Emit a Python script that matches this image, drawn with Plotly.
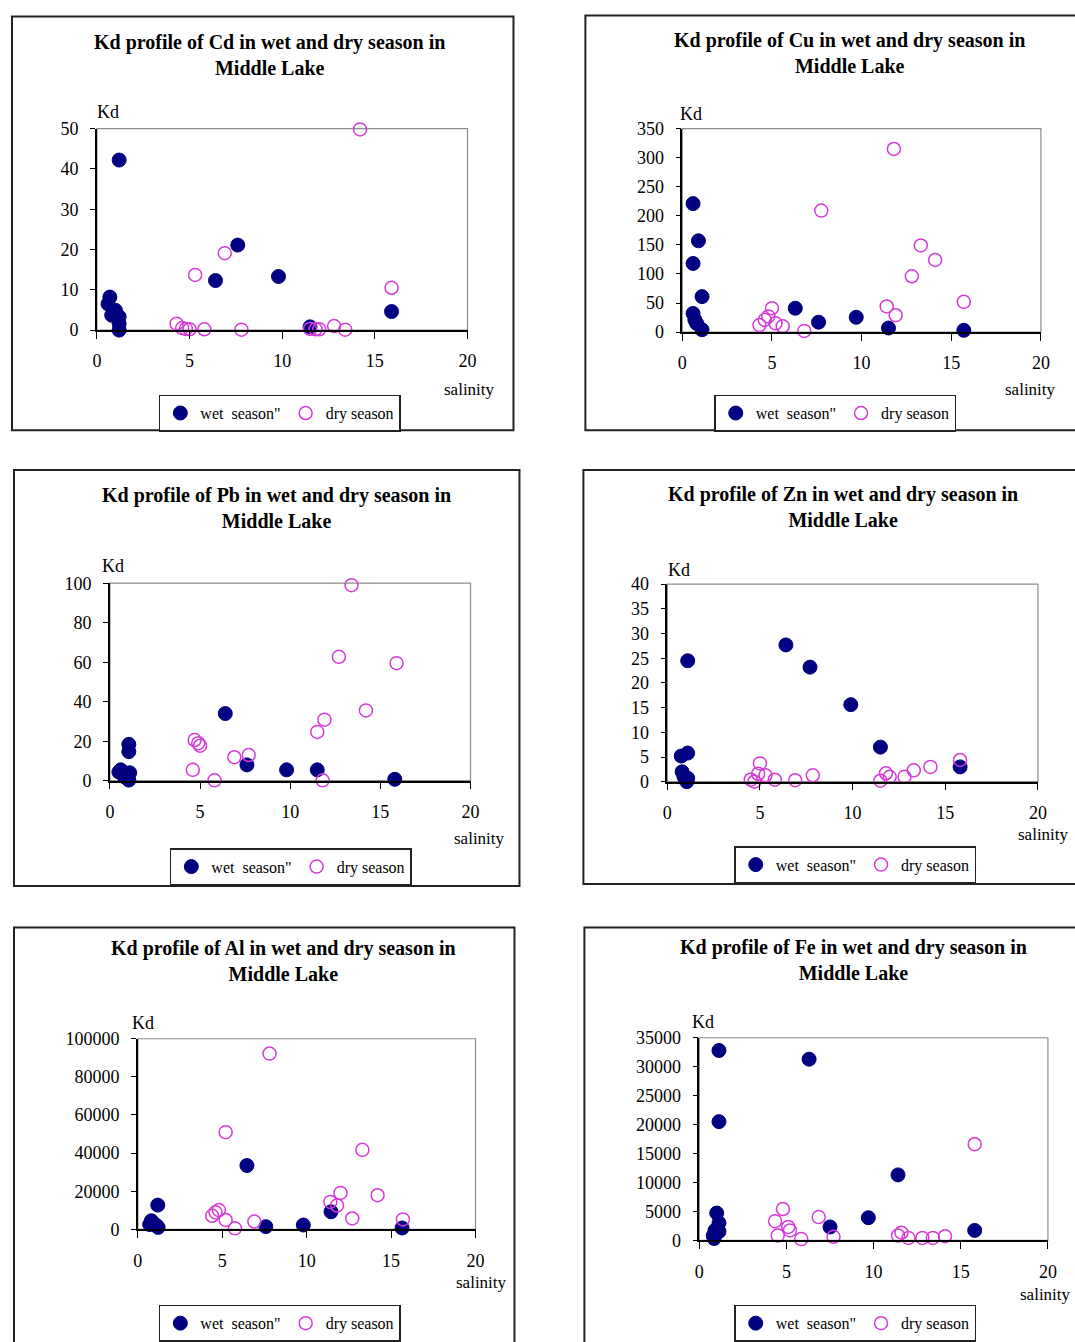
import plotly.graph_objects as go

W, H = 1075, 1342

# Kd values against salinity, wet and dry season, Middle Lake
cd_wet_sal = [0.7, 0.6, 0.8, 1.0, 1.2, 1.2, 1.2, 1.2, 6.4, 7.6, 9.8, 11.5, 15.9]
cd_wet_kd = [8.2, 6.5, 3.7, 4.9, 42.2, 3.3, 1.6, 0.0, 12.3, 21.1, 13.3, 0.8, 4.6]
cd_dry_sal = [4.3, 4.6, 4.8, 5.0, 5.3, 5.8, 6.9, 7.8, 11.5, 11.8, 12.0, 12.8, 13.4, 14.2, 15.9]
cd_dry_kd = [1.6, 0.5, 0.3, 0.2, 13.7, 0.2, 19.1, 0.1, 0.3, 0.2, 0.2, 1.0, 0.1, 49.8, 10.5]

cu_wet_sal = [0.6, 0.9, 0.6, 1.1, 0.6, 0.7, 0.8, 1.1, 6.3, 7.6, 9.7, 11.5, 15.7]
cu_wet_kd = [221, 157, 118, 61, 32, 21, 15, 4, 41, 17, 25.5, 7, 3]
cu_dry_sal = [4.3, 4.6, 4.8, 5.0, 5.2, 5.6, 6.8, 7.75, 11.4, 11.8, 11.9, 12.8, 13.3, 14.1, 15.7]
cu_dry_kd = [12, 21, 27, 41, 15, 10, 2, 209, 44, 315, 29, 96, 149, 124, 52]

pb_wet_sal = [6.4, 1.05, 1.05, 0.6, 0.5, 1.1, 0.8, 1.05, 7.6, 9.8, 11.5, 15.8]
pb_wet_kd = [34, 18.4, 14.7, 5.5, 4.4, 4.0, 2.0, 0.3, 8.0, 5.5, 5.5, 0.7]
pb_dry_sal = [13.4, 12.7, 15.9, 14.2, 11.9, 11.5, 4.7, 4.9, 5.0, 6.9, 7.7, 4.6, 5.8, 11.8]
pb_dry_kd = [99, 62.7, 59.5, 35.6, 30.9, 24.7, 20.6, 19.0, 17.7, 11.9, 13.0, 5.5, 0.2, 0.2]

zn_wet_sal = [1.1, 6.4, 7.7, 9.9, 11.5, 15.8, 0.75, 1.1, 0.8, 0.9, 1.1, 1.05]
zn_wet_kd = [24.5, 27.7, 23.2, 15.6, 7.0, 3.0, 5.2, 5.8, 2.0, 1.0, 0.7, 0.0]
zn_dry_sal = [15.8, 5.0, 14.2, 13.3, 12.8, 11.8, 12.0, 11.5, 7.85, 6.9, 5.8, 5.3, 4.9, 4.5, 4.7]
zn_dry_kd = [4.4, 3.7, 3.0, 2.3, 1.0, 1.7, 1.0, 0.2, 1.3, 0.3, 0.4, 1.3, 1.6, 0.4, 0.0]

al_wet_sal = [6.46, 1.18, 0.8, 0.95, 1.1, 0.7, 1.2, 7.58, 9.8, 11.44, 15.65]
al_wet_kd = [33500, 12700, 4500, 3000, 2000, 2500, 1000, 1400, 2250, 9200, 700]
al_dry_sal = [7.8, 5.2, 13.3, 14.2, 12.0, 11.4, 11.8, 4.8, 4.4, 4.6, 5.2, 5.75, 6.9, 12.7, 15.7]
al_dry_kd = [92200, 51000, 41700, 17900, 19100, 14400, 12500, 10100, 7100, 8900, 4900, 500, 4100, 5700, 5200]

fe_wet_sal = [1.13, 6.3, 1.13, 11.4, 9.7, 7.5, 15.8, 1.0, 1.13, 0.9, 0.8, 0.85, 1.13]
fe_wet_kd = [32800, 31300, 20500, 11300, 3900, 2300, 1700, 4700, 3000, 1700, 800, 300, 1500]
fe_dry_sal = [15.8, 4.8, 6.85, 4.35, 5.1, 5.2, 4.5, 5.85, 7.7, 11.4, 11.6, 12.0, 12.8, 13.4, 14.1]
fe_dry_kd = [16600, 5400, 4000, 3300, 2300, 1700, 800, 200, 600, 800, 1300, 400, 400, 400, 700]

salinity_ticks = [0, 5, 10, 15, 20]
metals = ["Cd", "Cu", "Pb", "Zn", "Al", "Fe"]
kd_ticks = {
    "Cd": list(range(0, 51, 10)),
    "Cu": list(range(0, 351, 50)),
    "Pb": list(range(0, 101, 20)),
    "Zn": list(range(0, 41, 5)),
    "Al": list(range(0, 100001, 20000)),
    "Fe": list(range(0, 35001, 5000)),
}
series = {
    "Cd": (cd_wet_sal, cd_wet_kd, cd_dry_sal, cd_dry_kd),
    "Cu": (cu_wet_sal, cu_wet_kd, cu_dry_sal, cu_dry_kd),
    "Pb": (pb_wet_sal, pb_wet_kd, pb_dry_sal, pb_dry_kd),
    "Zn": (zn_wet_sal, zn_wet_kd, zn_dry_sal, zn_dry_kd),
    "Al": (al_wet_sal, al_wet_kd, al_dry_sal, al_dry_kd),
    "Fe": (fe_wet_sal, fe_wet_kd, fe_dry_sal, fe_dry_kd),
}

# Pixel geometry of each panel: frame box, plot area, title centre, labels, legend
layout_px = {
    "Cd": dict(box=(10, 14, 512, 431), plot=(95, 127, 466, 330), title=(268, 40),
               kd=(106, 110), sal=(468, 390), leg=(157, 395)),
    "Cu": dict(box=(584, 13, 1085, 431), plot=(681, 127, 1040, 332), title=(848, 38),
               kd=(690, 112), sal=(1030, 390), leg=(713, 395)),
    "Pb": dict(box=(12, 471, 518, 890), plot=(108, 585, 469, 784), title=(275, 496),
               kd=(111, 568), sal=(478, 842), leg=(168, 852)),
    "Zn": dict(box=(582, 471, 1085, 888), plot=(666, 586, 1037, 785), title=(842, 495),
               kd=(678, 572), sal=(1043, 838), leg=(733, 850)),
    "Al": dict(box=(12, 932, 513, 1370), plot=(136, 1044, 474, 1236), title=(282, 952),
               kd=(141, 1028), sal=(480, 1290), leg=(157, 1312)),
    "Fe": dict(box=(583, 932, 1085, 1370), plot=(698, 1043, 1047, 1247), title=(852, 951),
               kd=(702, 1027), sal=(1045, 1302), leg=(733, 1312)),
}

FONT = "Liberation Serif"
WET_COLOR = "#000080"
DRY_COLOR = "#D63AD6"

# page-to-figure pixel mapping
SCALE, OFF_X, OFF_Y = 0.988, 3.0, 7.5


def fx(x):
    return ((x - OFF_X) / SCALE) / W


def fy(y):
    return 1 - ((y - OFF_Y) / SCALE) / H


fig = go.Figure()
shapes, annotations = [], []
lay = {}

for i, m in enumerate(metals, start=1):
    g = layout_px[m]
    sfx = "" if i == 1 else str(i)
    xa, ya = "x" + sfx, "y" + sfx
    leg = "legend" + sfx
    wet_x, wet_y, dry_x, dry_y = series[m]

    fig.add_trace(go.Scatter(
        x=wet_x, y=wet_y, mode="markers", name='wet  season"',
        xaxis=xa, yaxis=ya, legend=leg, cliponaxis=False,
        marker=dict(symbol="circle", size=14, color=WET_COLOR,
                    line=dict(color=WET_COLOR, width=1)),
    ))
    fig.add_trace(go.Scatter(
        x=dry_x, y=dry_y, mode="markers", name="dry season",
        xaxis=xa, yaxis=ya, legend=leg, cliponaxis=False,
        marker=dict(symbol="circle-open", size=13, color=DRY_COLOR,
                    line=dict(color=DRY_COLOR, width=1.5)),
    ))

    x0, y0, x1, y1 = g["plot"]
    lay["xaxis" + sfx] = dict(
        domain=[fx(x0), fx(x1)], anchor=ya, range=[0, 20],
        tickvals=salinity_ticks, ticks="outside", ticklen=7, tickwidth=1.2,
        tickcolor="black", showline=True, linecolor="black", linewidth=1.5,
        showgrid=False, zeroline=False, ticklabelstandoff=7,
        tickfont=dict(family=FONT, size=18, color="black"), fixedrange=True,
    )
    ymax = kd_ticks[m][-1]
    lay["yaxis" + sfx] = dict(
        domain=[fy(y1), fy(y0)], anchor=xa, range=[0, ymax],
        tickvals=kd_ticks[m], ticktext=[str(v) for v in kd_ticks[m]],
        ticks="outside", ticklen=5, tickwidth=1.2,
        tickcolor="black", showline=True, linecolor="black", linewidth=1.5,
        showgrid=False, zeroline=False, ticklabelstandoff=8,
        tickfont=dict(family=FONT, size=18, color="black"), fixedrange=True,
    )

    # plot area frame (grey top/right edges)
    shapes.append(dict(type="rect", xref=xa + " domain", yref=ya + " domain",
                       x0=0, x1=1, y0=0, y1=1, layer="below",
                       line=dict(color="#8c8c8c", width=1.2)))
    # outer chart frame
    bx0, by0, bx1, by1 = g["box"]
    shapes.append(dict(type="rect", xref="paper", yref="paper",
                       x0=fx(bx0), x1=fx(bx1), y0=fy(by1), y1=fy(by0),
                       layer="below", line=dict(color="#222222", width=2)))

    tx, ty = g["title"]
    annotations.append(dict(
        xref="paper", yref="paper", x=fx(tx), y=fy(ty - 13), xanchor="center",
        yanchor="top", showarrow=False, align="center",
        text=f"<b>Kd profile of {m} in wet and dry season in<br>Middle Lake</b>",
        font=dict(family=FONT, size=20, color="black"),
    ))
    kx, ky = g["kd"]
    annotations.append(dict(xref="paper", yref="paper", x=fx(kx), y=fy(ky),
                            xanchor="center", yanchor="middle", showarrow=False,
                            text="Kd", font=dict(family=FONT, size=18, color="black")))
    sx, sy = g["sal"]
    annotations.append(dict(xref="paper", yref="paper", x=fx(sx), y=fy(sy),
                            xanchor="center", yanchor="middle", showarrow=False,
                            text="salinity", font=dict(family=FONT, size=17, color="black")))

    lx, ly = g["leg"]
    lay[leg] = dict(
        x=fx(lx), y=fy(ly), xanchor="left", yanchor="top", orientation="h",
        bgcolor="white", bordercolor="#222222", borderwidth=1.5,
        font=dict(family=FONT, size=16, color="black"),
        itemwidth=30, itemclick=False, itemdoubleclick=False,
        tracegroupgap=0,
    )

fig.update_layout(
    width=W, height=H, margin=dict(l=0, r=0, t=0, b=0),
    paper_bgcolor="white", plot_bgcolor="white",
    shapes=shapes, annotations=annotations, **lay,
)

# page body without default margin so the figure fills the window exactly
fig.write_html(
    "out.html",
    post_script="document.body.style.margin='0';document.body.style.overflow='hidden';",
)
